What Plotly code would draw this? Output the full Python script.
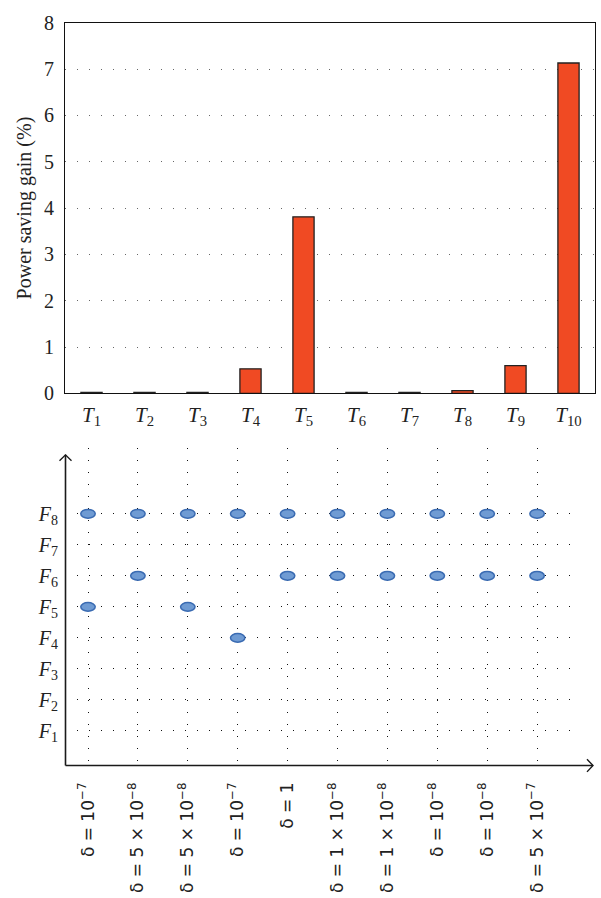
import plotly.graph_objects as go

# ---- top panel: power saving gain per task ----
task_ids = list(range(1, 11))
task_labels = [f"<i>T</i><sub>{i}</sub>" for i in task_ids]
gain_pct = [0.02, 0.02, 0.02, 0.53, 3.81, 0.02, 0.02, 0.06, 0.60, 7.13]

# ---- bottom panel: selected frequency level for each configuration ----
config_ids = list(range(1, 11))
delta_labels = [
    "δ = 10<sup>−7</sup>",
    "δ = 5 × 10<sup>−8</sup>",
    "δ = 5 × 10<sup>−8</sup>",
    "δ = 10<sup>−7</sup>",
    "δ = 1",
    "δ = 1 × 10<sup>−8</sup>",
    "δ = 1 × 10<sup>−8</sup>",
    "δ = 10<sup>−8</sup>",
    "δ = 10<sup>−8</sup>",
    "δ = 5 × 10<sup>−7</sup>",
]
freq_levels = list(range(1, 9))
freq_labels = [f"<i>F</i><sub>{i}</sub>" for i in freq_levels]

point_config = [1, 2, 3, 4, 5, 6, 7, 8, 9, 10,
                2, 5, 6, 7, 8, 9, 10,
                1, 3,
                4]
point_freq = [8, 8, 8, 8, 8, 8, 8, 8, 8, 8,
              6, 6, 6, 6, 6, 6, 6,
              5, 5,
              4]

W, H = 601, 898


def px(x):
    return x / W


def py(y):
    return 1 - y / H


SERIF = "Liberation Serif, Times New Roman, serif"
SANS = "DejaVu Sans, sans-serif"

fig = go.Figure()

fig.add_trace(go.Bar(
    x=task_labels, y=gain_pct, width=0.4,
    marker=dict(color="#f04a23", line=dict(color="#222222", width=1.3)),
    xaxis="x", yaxis="y", showlegend=False,
))

# invisible carrier so the second axis pair is rendered
fig.add_trace(go.Scatter(
    x=point_config, y=point_freq, mode="markers",
    marker=dict(size=1, opacity=0), xaxis="x2", yaxis="y2",
    showlegend=False, hoverinfo="skip",
))

shapes = []
# elliptical markers for the chosen frequency levels
rx, ry = 0.145, 0.14
for c, f in zip(point_config, point_freq):
    shapes.append(dict(
        type="circle", xref="x2", yref="y2",
        x0=c - rx, x1=c + rx, y0=f - ry, y1=f + ry,
        fillcolor="#6f9bd3", line=dict(color="#3a6bb2", width=1.5),
        layer="above",
    ))

# arrowed axes of the bottom panel
axc = "#1a1a1a"
shapes += [
    dict(type="line", xref="paper", yref="paper",
         x0=px(65.5), x1=px(65.5), y0=py(773.5), y1=py(455),
         line=dict(color=axc, width=1.6)),
    dict(type="path", xref="paper", yref="paper",
         path=f"M {px(59.5)},{py(461)} L {px(65.5)},{py(455)} L {px(71.5)},{py(461)}",
         line=dict(color=axc, width=1.4)),
    dict(type="line", xref="paper", yref="paper",
         x0=px(65.5), x1=px(593), y0=py(773.5), y1=py(773.5),
         line=dict(color=axc, width=1.6)),
    dict(type="path", xref="paper", yref="paper",
         path=f"M {px(587)},{py(767)} L {px(593)},{py(773.5)} L {px(587)},{py(780)}",
         line=dict(color=axc, width=1.4)),
]

fig.update_layout(
    width=W, height=H,
    margin=dict(l=0, r=0, t=0, b=0),
    paper_bgcolor="white", plot_bgcolor="white",
    shapes=shapes,
    xaxis=dict(
        domain=[px(65), px(595)], anchor="y",
        type="category", range=[-0.5, 9.5],
        showline=True, mirror=True, linecolor="#111", linewidth=1.2,
        showgrid=False, ticks="",
        tickfont=dict(family=SERIF, size=21, color="#222"),
        ticklabelstandoff=2,
    ),
    yaxis=dict(
        domain=[py(392), py(12)], anchor="x",
        range=[0, 8], dtick=1,
        showline=True, mirror=True, linecolor="#111", linewidth=1.2,
        showgrid=True, gridcolor="#666", gridwidth=1, griddash="1px,11px",
        zeroline=False, ticks="",
        tickfont=dict(family=SERIF, size=20, color="#222"),
        ticklabelstandoff=6,
        title=dict(text="Power saving gain (%)",
                   font=dict(family=SERIF, size=20, color="#222"),
                   standoff=6),
    ),
    xaxis2=dict(
        domain=[px(65), px(577)], anchor="y2",
        range=[0.539, 10.80],
        tickmode="array", tickvals=config_ids, ticktext=delta_labels,
        tickangle=-90,
        showline=False, zeroline=False, ticks="",
        showgrid=True, gridcolor="#111", gridwidth=1, griddash="1px,11px",
        tickfont=dict(family=SANS, size=17, color="#222"),
        ticklabelstandoff=13,
    ),
    yaxis2=dict(
        domain=[py(773), py(448)], anchor="x2",
        range=[-0.1, 10.12],
        tickmode="array", tickvals=freq_levels, ticktext=freq_labels,
        showline=False, zeroline=False, ticks="",
        showgrid=True, gridcolor="#111", gridwidth=1, griddash="1px,11px",
        tickfont=dict(family=SERIF, size=20, color="#222"),
        ticklabelstandoff=6,
    ),
)

fig.write_html("out.html")
